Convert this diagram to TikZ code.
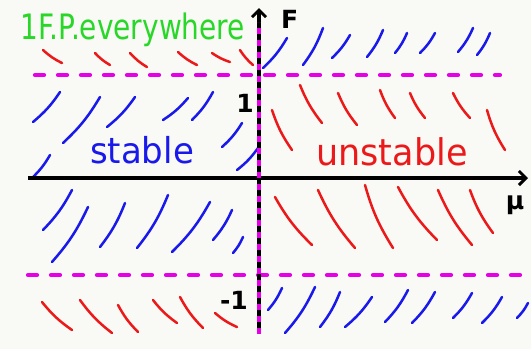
\documentclass[tikz,border=0pt]{standalone}
\usepackage{fontspec}
\setmainfont{DejaVu Sans}
\usetikzlibrary{arrows.meta}
\definecolor{bgc}{RGB}{249,249,245}
\definecolor{rd}{RGB}{235,25,25}
\definecolor{bl}{RGB}{25,25,235}
\definecolor{gr}{RGB}{40,215,40}
\definecolor{mg}{RGB}{230,0,230}
\begin{document}
\begin{tikzpicture}[x=1pt,y=-1pt,
  stroke/.style={line width=2.5pt,line cap=round},
  rstroke/.style={stroke,rd},
  bstroke/.style={stroke,bl},
  axis/.style={line width=4pt,black,-{Straight Barb[length=7pt,width=14pt,line width=3pt]}},
  mdash/.style={line width=4.2pt,mg,line cap=round,dash pattern=on 9pt off 14pt},
  lbl/.style={font=\bfseries\fontsize{25}{25}\selectfont,inner sep=0pt}]
\fill[bgc] (0,0) rectangle (531,349);
\useasboundingbox (0,0) rectangle (531,349);
% red strokes
\foreach \a/\b/\c/\d in {43/50/62/63, 95/53/110/65, 130/53/147/67, 178/52/197/65, 212/53/230/62, 240/50/253/65,
  272/110/292/150, 300/85/322/123, 338/93/357/125, 380/90/395/118, 410/93/425/118, 453/93/470/118, 487/110/505/150,
  275/197/312/245, 318/190/355/248, 365/185/393/248, 398/187/437/240, 438/190/472/245, 470/190/493/233,
  42/302/72/330, 80/300/112/333, 118/305/138/332, 153/300/177/323, 180/297/203/328, 215/313/237/327}
  \draw[rstroke] (\a,\b) to[bend right=8] (\c,\d);
% blue strokes
\foreach \a/\b/\c/\d in {60/92/33/122, 100/97/63/143, 135/97/107/127, 188/98/163/120, 213/92/192/120, 242/123/222/147, 258/148/237/170, 50/155/32/178,
  287/38/263/68, 323/28/303/65, 350/35/332/58, 383/30/367/57, 407/33/395/53, 435/33/420/53, 473/28/458/52, 490/33/477/55,
  72/190/43/230, 88/207/52/262, 125/203/100/247, 168/195/137/248, 210/202/172/252, 232/210/213/240, 243/237/233/253,
  282/288/268/310, 315/287/285/333, 340/292/320/327, 372/297/345/327, 408/290/385/322, 435/292/412/323, 472/293/453/318, 502/297/482/323, 528/303/517/318}
  \draw[bstroke] (\a,\b) to[bend left=8] (\c,\d);
% dashed magenta lines
\coordinate (u1) at (35,75); \coordinate (u2) at (500,75);
\coordinate (l1) at (28,275); \coordinate (l2) at (520,275);
\draw[mdash] (u1) -- (u2);
\draw[mdash] (l1) -- (l2);
% axes
\coordinate (h1) at (28,178); \coordinate (h2) at (528,178);
\coordinate (v1) at (259,334); \coordinate (v2) at (259,8);
\draw[axis] (h1) -- (h2);
\draw[axis] (v1) -- (v2);
\draw[line width=3.6pt,mg,dash pattern=on 6pt off 6pt] (259,334) -- (259,22);
% labels
\node[lbl,anchor=west] (F) at (281,19) {F};
\node[lbl] (mu) at (515,205) {μ};
\node[lbl] (one) at (245,103) {1};
\node[lbl] (mone) at (234,300) {-1};
\node[gr,inner sep=0pt,anchor=west] (fp) at (20,30) {\scalebox{1}[1.25]{\fontsize{28}{28}\selectfont 1F.P.everywhere}};
\node[bl,inner sep=0pt] (st) at (142,150) {\scalebox{1}[1.05]{\fontsize{34}{34}\selectfont stable}};
\node[rd,inner sep=0pt] (un) at (392,152) {\scalebox{1}[1.05]{\fontsize{35}{35}\selectfont unstable}};
\end{tikzpicture}
\end{document}
